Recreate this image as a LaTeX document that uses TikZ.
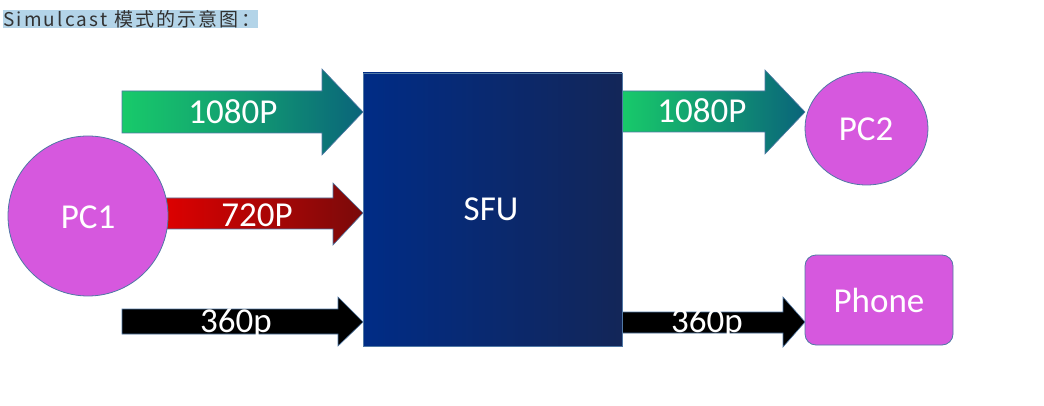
\documentclass[tikz,border=0pt]{standalone}
\usepackage{fontspec}
\setmainfont{Carlito}
\newfontfamily\capfont[LetterSpace=11.5]{Noto Sans CJK SC}
\definecolor{mag}{RGB}{214,88,222}
\definecolor{edgeblue}{RGB}{80,120,165}
\definecolor{sfuL}{RGB}{0,44,134}
\definecolor{sfuR}{RGB}{19,38,88}
\definecolor{grnL}{RGB}{24,202,106}
\definecolor{grnR}{RGB}{10,100,122}
\definecolor{redL}{RGB}{228,0,0}
\definecolor{redR}{RGB}{122,10,10}
\definecolor{hl}{RGB}{179,212,232}
\definecolor{captxt}{RGB}{50,50,50}
\tikzset{
  lbl/.style={text=white,font=\fontsize{35}{35}\selectfont,anchor=base,inner sep=0pt},
  blob/.style={fill=mag,draw=edgeblue,line width=0.8pt},
  arrowedge/.style={draw=edgeblue,line width=0.6pt},
}
\begin{document}
\begin{tikzpicture}[x=1pt,y=-1pt]
\useasboundingbox (0,0) rectangle (1044,406);
% caption
\fill[hl] (3,10) rectangle (258,28);
\node[anchor=base west,inner sep=0pt,text=captxt,font=\capfont\fontsize{19}{19}\selectfont] (cap) at (3,26.5) {Simulcast 模式的示意图：};
% left arrows
\shade[left color=grnL,right color=grnR,middle color=grnL!55!grnR,arrowedge]
  (122,91) -- (322,91) -- (322,69) -- (363,112) -- (322,155) -- (322,133) -- (122,133) -- cycle;
\shade[left color=redL,right color=redR,arrowedge]
  (150,198) -- (333,198) -- (333,183) -- (363,213) -- (333,245) -- (333,229) -- (150,229) -- cycle;
\fill[black,arrowedge]
  (122,309) -- (338,309) -- (338,297) -- (363,322) -- (338,346) -- (338,334) -- (122,334) -- cycle;
% right arrows
\shade[left color=grnL,right color=grnR,arrowedge]
  (622,91) -- (765,91) -- (765,70) -- (805,112) -- (765,154) -- (765,132) -- (622,132) -- cycle;
\fill[black,arrowedge]
  (622,312) -- (783,312) -- (783,297) -- (805,322) -- (783,347) -- (783,333) -- (622,333) -- cycle;
% SFU
\shade[left color=sfuL,right color=sfuR,draw=edgeblue,line width=0.6pt] (363,73) rectangle (622,346);
\node[inner sep=0pt,minimum width=259pt,minimum height=273pt] (sfu) at (492.5,209.5) {};
\node[lbl] (sfut) at (491,221) {SFU};
% endpoints
\node[blob,circle,minimum size=160pt,inner sep=0pt] (pc1) at (88,216) {};
\node[lbl] (pc1t) at (88,229) {PC1};
\draw[blob] (866.5,128.5) ellipse [x radius=61.5,y radius=56.5];
\node[inner sep=0pt,minimum width=123pt,minimum height=113pt] (pc2) at (866.5,128.5) {};
\node[lbl] (pc2t) at (866,141) {PC2};
\node[blob,rectangle,rounded corners=11pt,minimum width=148pt,minimum height=90pt,inner sep=0pt] (phone) at (879,300) {};
\node[lbl] (phonet) at (879,312) {Phone};
% arrow labels
\node[lbl] (a1) at (233,124) {1080P};
\node[lbl] (a2) at (257,227) {720P};
\node[lbl] (a3) at (236,332) {360p};
\node[lbl] (a4) at (702,123) {1080P};
\node[lbl] (a5) at (707,332) {360p};
\end{tikzpicture}
\end{document}
